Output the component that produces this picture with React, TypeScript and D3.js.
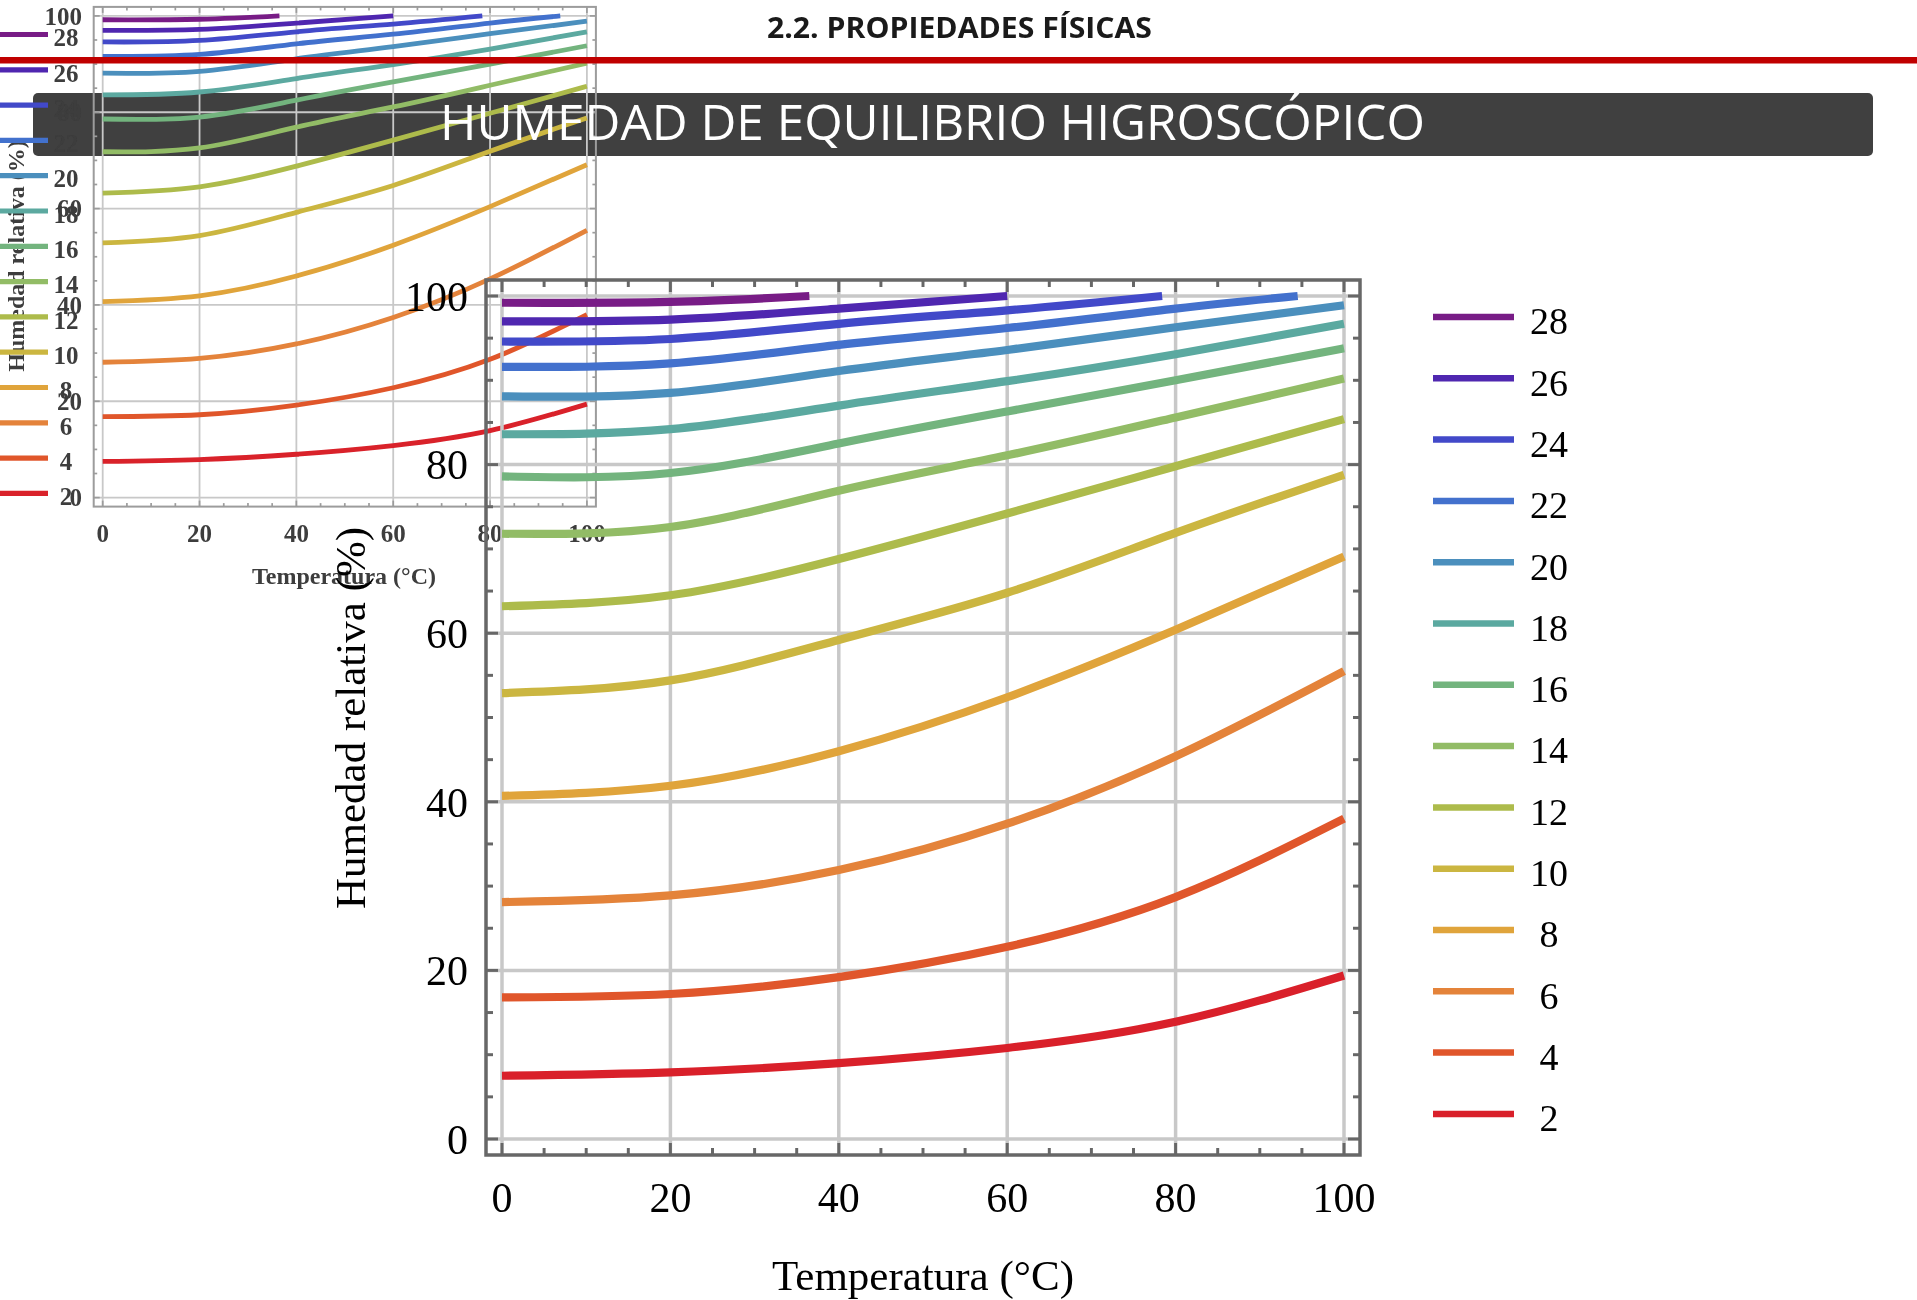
import React from "react";
import * as d3 from "d3";

// equilibrium moisture content curves (% moisture), relative humidity vs temperature
const TEMPS = [0, 20, 40, 60, 80, 100];
const MOISTURE = [28, 26, 24, 22, 20, 18, 16, 14, 12, 10, 8, 6, 4, 2];

const HR_28 = [99.2, 99.3];
const HR_26 = [97.0, 97.2, 98.5];
const HR_24 = [94.6, 94.9, 96.7, 98.3];
const HR_22 = [91.6, 92.0, 94.2, 96.2, 98.5];
const HR_20 = [88.1, 88.5, 91.1, 93.6, 96.3, 98.9];
const HR_18 = [83.6, 84.2, 87.0, 89.9, 93.1, 96.7];
const HR_16 = [78.6, 79.0, 82.5, 86.3, 90.0, 93.8];
const HR_14 = [71.8, 72.6, 76.9, 81.1, 85.6, 90.2];
const HR_12 = [63.2, 64.5, 68.8, 74.2, 79.8, 85.4];
const HR_10 = [52.9, 54.4, 59.2, 64.8, 71.9, 78.8];
const HR_8 = [40.7, 41.9, 46.0, 52.4, 60.4, 69.1];
const HR_6 = [28.1, 28.9, 31.9, 37.4, 45.4, 55.5];
const HR_4 = [16.8, 17.2, 19.2, 22.8, 28.7, 38.0];
const HR_2 = [7.5, 7.9, 9.0, 10.8, 13.9, 19.4];

const SERIES = [HR_28, HR_26, HR_24, HR_22, HR_20, HR_18, HR_16, HR_14, HR_12, HR_10, HR_8, HR_6, HR_4, HR_2];
// temperature where a curve reaches saturation (100 %) and stops
const END_TEMPS = [36.5, 60, 78.4, 94.5, null, null, null, null, null, null, null, null, null, null];

const COLORS = [
  "#781c86", "#4f27b0", "#4249c9", "#4371cd", "#4b8fbd", "#5ba9a0", "#73b47e",
  "#92bc66", "#adbb4b", "#cbb641", "#e0a43b", "#e4833a", "#e0562b", "#d9202a",
];

const AXIS_TICKS = [0, 20, 40, 60, 80, 100];
const MINOR_TICKS = d3.range(0, 101, 5);

const HEADER = "2.2. PROPIEDADES FÍSICAS";
const TITLE = "HUMEDAD DE EQUILIBRIO HIGROSCÓPICO";
const X_TITLE = "Temperatura (°C)";
const Y_TITLE = "Humedad relativa (%)";

type Cfg = {
  xr: [number, number];
  yr: [number, number];
  pad: number;
  frameColor: string;
  frameW: number;
  gridW: number;
  lineW: number;
  major: number;
  minor: number;
  font: number;
  titleFont: number;
  textColor: string;
  weight: string;
  yLabelX: number;
  xLabelY: number;
  xTitle: [number, number];
  yTitle: [number, number];
  legX: [number, number];
  legY0: number;
  legStep: number;
  legLabelX: number;
  legFont: number;
  legW: number;
  legDy: number;
};

const serif = "'Liberation Serif', 'Times New Roman', serif";

function Chart({ c, filter }: { c: Cfg; filter?: string }) {
  const x = d3.scaleLinear().domain([0, 100]).range(c.xr);
  const y = d3.scaleLinear().domain([0, 100]).range(c.yr);
  const fl = c.xr[0] - c.pad, fr = c.xr[1] + c.pad;
  const ft = c.yr[1] - c.pad, fb = c.yr[0] + c.pad;

  const line = d3.line<[number, number]>()
    .x(d => x(d[0]))
    .y(d => y(d[1]))
    .curve(d3.curveNatural);

  const curves = SERIES.map((vals, i) => {
    const pts: [number, number][] = vals.map((v, j) => [TEMPS[j], v]);
    const end = END_TEMPS[i];
    if (end != null) pts.push([end, 100]);
    return pts;
  });

  return (
    <g filter={filter}>
      {/* grid */}
      {AXIS_TICKS.map(t => (
        <g key={"g" + t} stroke="#c8c8c8" strokeWidth={c.gridW}>
          <line x1={x(t)} x2={x(t)} y1={ft} y2={fb} />
          <line x1={fl} x2={fr} y1={y(t)} y2={y(t)} />
        </g>
      ))}
      {/* curves */}
      {curves.map((pts, i) => (
        <path key={MOISTURE[i]} d={line(pts) || ""} fill="none" stroke={COLORS[i]} strokeWidth={c.lineW} />
      ))}
      {/* frame and ticks */}
      <rect x={fl} y={ft} width={fr - fl} height={fb - ft} fill="none" stroke={c.frameColor} strokeWidth={c.frameW} />
      {MINOR_TICKS.map(t => {
        const len = t % 20 === 0 ? c.major : c.minor;
        return (
          <g key={"t" + t} stroke={c.frameColor} strokeWidth={c.frameW * 0.85}>
            <line x1={x(t)} x2={x(t)} y1={fb} y2={fb - len} />
            <line x1={x(t)} x2={x(t)} y1={ft} y2={ft + len} />
            <line x1={fl} x2={fl + len} y1={y(t)} y2={y(t)} />
            <line x1={fr} x2={fr - len} y1={y(t)} y2={y(t)} />
          </g>
        );
      })}
      {/* tick labels */}
      <g fontFamily={serif} fontSize={c.font} fill={c.textColor} fontWeight={c.weight}>
        {AXIS_TICKS.map(t => (
          <text key={"yl" + t} x={c.yLabelX} y={y(t)} dy="0.35em" textAnchor="end">{t}</text>
        ))}
        {AXIS_TICKS.map(t => (
          <text key={"xl" + t} x={x(t)} y={c.xLabelY} textAnchor="middle">{t}</text>
        ))}
      </g>
      <g fontFamily={serif} fontSize={c.titleFont} fill={c.textColor} fontWeight={c.weight}>
        <text x={c.xTitle[0]} y={c.xTitle[1]} textAnchor="middle">{X_TITLE}</text>
        <text transform={`translate(${c.yTitle[0]},${c.yTitle[1]}) rotate(-90)`} dy="0.35em" textAnchor="middle">{Y_TITLE}</text>
      </g>
      {/* legend */}
      {MOISTURE.map((m, i) => {
        const ly = c.legY0 + i * c.legStep;
        return (
          <g key={"lg" + m}>
            <line x1={c.legX[0]} x2={c.legX[1]} y1={ly} y2={ly} stroke={COLORS[i]} strokeWidth={c.legW} />
            <text x={c.legLabelX} y={ly + c.legDy} dy="0.35em" textAnchor="middle" fontFamily={serif}
              fontSize={c.legFont} fill={c.textColor} fontWeight={c.weight}>{m}</text>
          </g>
        );
      })}
    </g>
  );
}

const MAIN: Cfg = {
  xr: [502, 1344], yr: [1139, 296], pad: 16,
  frameColor: "#676767", frameW: 3.5, gridW: 3.5, lineW: 8.2, major: 12, minor: 7,
  font: 42, titleFont: 43, textColor: "#000", weight: "normal",
  yLabelX: 468, xLabelY: 1212, xTitle: [923, 1290], yTitle: [350, 718],
  legX: [1433, 1514], legY0: 317, legStep: 61.3, legLabelX: 1549, legFont: 38, legW: 6.5, legDy: 4,
};

const GHOST: Cfg = {
  xr: [102.7, 586.9], yr: [497.6, 15.9], pad: 9,
  frameColor: "#9c9c9c", frameW: 2, gridW: 1.8, lineW: 4.8, major: 6, minor: 3.5,
  font: 25, titleFont: 24, textColor: "#3c3c3c", weight: "bold",
  yLabelX: 82, xLabelY: 542, xTitle: [344, 584], yTitle: [16, 256],
  legX: [-5, 48], legY0: 34.5, legStep: 35.3, legLabelX: 66, legFont: 25, legW: 5.2, legDy: 3,
};

export default function App() {
  return (
    <svg width={1917} height={1300} viewBox="0 0 1917 1300"
      style={{ position: "absolute", left: 0, top: 0, display: "block", background: "#fff" }}>
      <defs>
        <filter id="soft" x="-5%" y="-5%" width="110%" height="110%">
          <feGaussianBlur stdDeviation="0.7" />
        </filter>
      </defs>
      <rect x={0} y={0} width={1917} height={1300} fill="#fff" />
      {/* title banner */}
      <rect x={33} y={93} width={1840} height={63} rx={5} fill="#404040" />
      {/* earlier copy of the chart showing through behind the slide */}
      <Chart c={GHOST} filter="url(#soft)" />
      <text x={440} y={140} fontFamily="'Open Sans', sans-serif" fontWeight={400} fontSize={50}
        fill="#fff" textLength={985} lengthAdjust="spacingAndGlyphs">{TITLE}</text>
      <rect x={0} y={57} width={1917} height={6.5} fill="#c00000" />
      <text x={767} y={38} fontFamily="'Open Sans', sans-serif" fontWeight={700} fontSize={28}
        fill="#1a1a1a" textLength={385} lengthAdjust="spacingAndGlyphs">{HEADER}</text>
      <Chart c={MAIN} />
    </svg>
  );
}
